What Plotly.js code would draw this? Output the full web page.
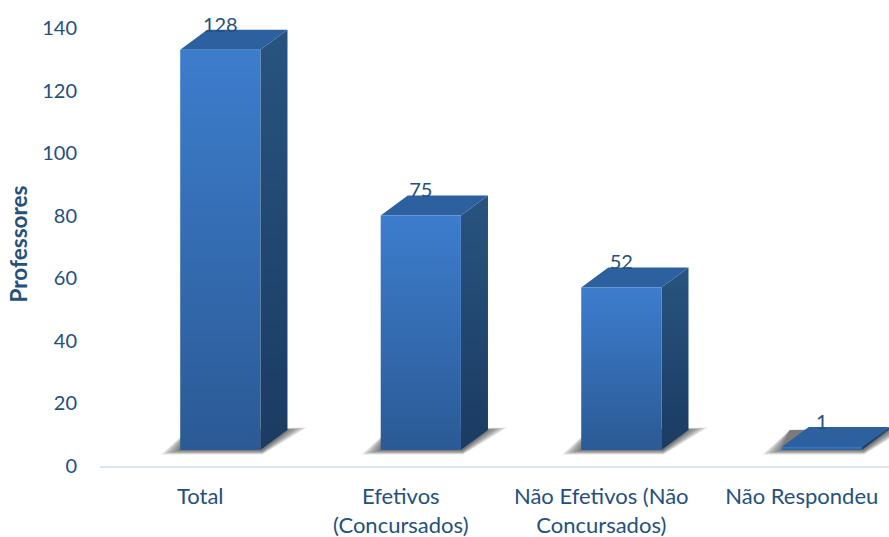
<!DOCTYPE html>
<html>
<head>
<meta charset="utf-8">
<script src="https://cdn.plot.ly/plotly-3.0.1.min.js"></script>
<style>html,body{margin:0;padding:0;background:#fff}</style>
</head>
<body>
<div id="chart" style="width:889px;height:537px"></div>
<script>
var categories = ["Total", "Efetivos<br>(Concursados)", "Não Efetivos (Não<br>Concursados)", "Não Respondeu"];
var values = [128, 75, 52, 1];
var categoryPositions = [0, 1, 2, 3];
var yTicks = [0, 20, 40, 60, 80, 100, 120, 140];

// 3D look, expressed in axis units
var shift = 0.1, halfW = 0.2, depthX = 0.135, depthY = 6.4, floor = 5.1, labelLift = 7.4;
var TEXT = "#24507F";
var FONT = "Lato, 'Open Sans', sans-serif";

var traces = [];
function poly(xs, ys, top, bottom) {
  var t = {
    x: xs.concat([xs[0]]), y: ys.concat([ys[0]]), mode: "lines", fill: "toself",
    line: {width: 0}, hoverinfo: "skip", showlegend: false
  };
  if (bottom) {
    t.fillgradient = {type: "vertical", colorscale: [[0, top], [1, bottom]]};
  } else {
    t.fillcolor = top;
  }
  return t;
}

// soft floor shadows
values.forEach(function (v, i) {
  var c = categoryPositions[i] + shift, L = c - halfW, R = c + halfW, b = floor;
  [[0.095, 1.4], [0.08, 1.15], [0.065, 0.95], [0.05, 0.75], [0.035, 0.55], [0.02, 0.35], [0.008, 0.2]].forEach(function (s) {
    traces.push(poly(
      [L - s[0], R + 0.01, R + depthX + s[0], L + depthX * 0.3],
      [b - s[1], b - s[1], b + depthY + s[1] * 0.6, b + depthY],
      "rgba(50,50,50,0.13)"
    ));
  });
});

// side and top faces, then front
values.forEach(function (v, i) {
  var c = categoryPositions[i] + shift, L = c - halfW, R = c + halfW, b = floor, t = floor + v;
  traces.push(poly([R, R + depthX, R + depthX, R], [b, b + depthY, t + depthY, t], "#1B3B62", "#28547F"));
  traces.push(poly([L, R, R + depthX, L + depthX], [t, t, t + depthY, t + depthY], "#2C609F"));
  traces.push(poly([L, R, R, L], [b, b, t, t], "#2B5A95", "#3D7DCD"));
});

// data labels
traces.push({
  x: categoryPositions.map(function (p) { return p + shift; }),
  y: values.map(function (v) { return v + floor + labelLift; }),
  mode: "text",
  text: values.map(String),
  textposition: "middle center",
  textfont: {family: FONT, size: 20, color: TEXT},
  cliponaxis: false,
  hoverinfo: "skip",
  showlegend: false
});

var layout = {
  width: 889, height: 537,
  margin: {l: 100, r: 0, t: 22, b: 71},
  paper_bgcolor: "#fff", plot_bgcolor: "#fff",
  showlegend: false,
  font: {family: FONT, size: 20, color: TEXT},
  xaxis: {
    range: [-0.5, 3.435], tickmode: "array", tickvals: categoryPositions, ticktext: categories,
    showgrid: false, zeroline: false, showline: true, linecolor: "#D9E5F3", linewidth: 2,
    ticks: "", ticklabelstandoff: 10, tickangle: 0,
    tickfont: {family: FONT, size: 22, color: TEXT}
  },
  yaxis: {
    range: [0, 142], tickmode: "array", tickvals: yTicks,
    showgrid: false, zeroline: false, showline: false, ticks: "", ticklabelstandoff: 22,
    tickfont: {family: FONT, size: 20, color: TEXT},
    title: {text: "<b>Professores</b>", standoff: 8, font: {family: FONT, size: 22.5, color: TEXT}}
  }
};
Plotly.newPlot("chart", traces, layout, {displayModeBar: false, responsive: false});
</script>
</body>
</html>
